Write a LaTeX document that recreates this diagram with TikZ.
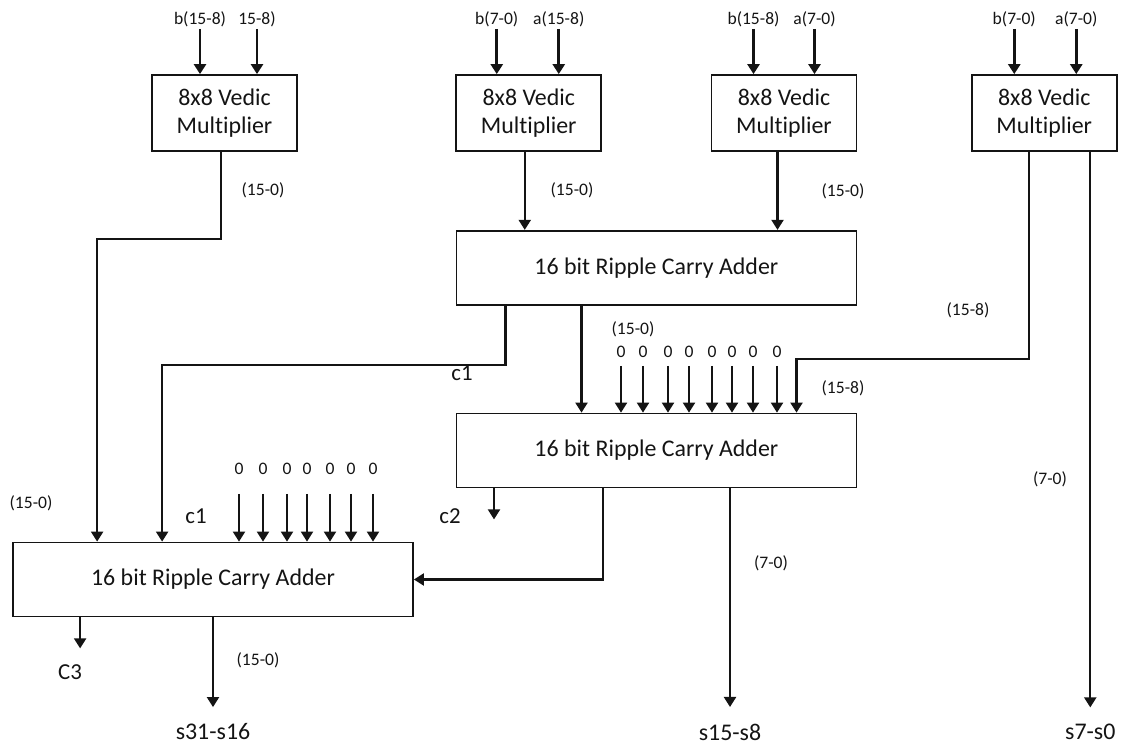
\documentclass[tikz,border=0pt]{standalone}
\usepackage{fontspec}
\setmainfont{Carlito}[Ligatures={NoCommon}]
\usepackage{tikz}
\usetikzlibrary{arrows.meta, positioning, calc}
\definecolor{mydark}{RGB}{20,20,20}
\tikzset{
  mult/.style={rectangle, draw=mydark, text=mydark, minimum width=2.9cm,
    minimum height=1.52cm, align=center, inner sep=2pt,
    font=\fontsize{13.6}{15.9}\selectfont, line width=1pt},
  rca/.style={rectangle, draw=mydark, text=mydark, minimum width=8cm,
    minimum height=1.48cm, font=\fontsize{13.6}{16}\selectfont, line width=1pt},
  lbl/.style={text=mydark, font=\fontsize{10}{12}\selectfont, inner sep=1pt},
  clbl/.style={text=mydark, font=\fontsize{13}{15}\selectfont, inner sep=1pt},
  zero/.style={text=mydark, font=\fontsize{10}{12}\selectfont, inner sep=1pt},
  outlbl/.style={text=mydark, font=\fontsize{13.6}{16}\selectfont,
    inner sep=1pt, outer ysep=0.3cm},
  arrow/.style={-{Triangle[length=0.2cm, width=0.24cm]}, line width=1.2pt, color=mydark},
  inarrow/.style={arrow, line width=1.6pt}
}

\begin{document}
\begin{tikzpicture}
  \useasboundingbox (0,0) rectangle (22.42,14.88);
  \coordinate (base) at (0,0.24);

  % multipliers
  \node[mult] (m1) at (4.49,12.62) {8x8 Vedic\\Multiplier};
  \node[mult, right=3.15cm of m1] (m2) {8x8 Vedic\\Multiplier};
  \node[mult, right=2.17cm of m2] (m3) {8x8 Vedic\\Multiplier};
  \node[mult, right=2.27cm of m3] (m4) {8x8 Vedic\\Multiplier};

  % adders
  \coordinate (mid) at ($(m2.south)!0.5!(m3.south)$);
  \node[rca, below=1.56cm of mid] (rca1) {16 bit Ripple Carry Adder};
  \node[rca, below=2.14cm of rca1] (rca2) {16 bit Ripple Carry Adder};
  \node[rca] (rca3) at (4.26,3.29) {16 bit Ripple Carry Adder};

  % operand inputs
  \foreach \m/\dx/\t [count=\i] in {m1/-0.49/{b(15-8)}, m1/0.65/{15-8)},
      m2/-0.64/{b(7-0)}, m2/0.60/{a(15-8)}, m3/-0.61/{b(15-8)}, m3/0.61/{a(7-0)},
      m4/-0.60/{b(7-0)}, m4/0.64/{a(7-0)}}
  {
    \node[lbl] (in\i) at ($(\m.north)+(\dx,1.10)$) {\t};
    \draw[inarrow] (in\i) -- (in\i |- \m.north);
  }

  % multiplier outputs
  \draw[arrow] ($(m1.south)+(-0.07,0)$) -- ++(0,-1.74) -| ($(rca3.north west)+(1.70,0)$);
  \coordinate (p2) at ($(m2.south)+(-0.08,0)$);
  \draw[arrow] (p2) -- (p2 |- rca1.north);
  \coordinate (p3) at ($(m3.south)+(-0.13,0)$);
  \draw[arrow] (p3) -- (p3 |- rca1.north);
  \draw[arrow] ($(m4.south)+(-0.30,0)$) -- ++(0,-4.14) -| ($(rca2.north west)+(6.82,0)$);
  \coordinate (p4) at ($(m4.south)+(0.92,0)$);
  \node[outlbl] (s70) at (p4 |- base) {s7-s0};
  \draw[arrow] (p4) -- (s70);

  % first adder outputs
  \draw[arrow] ($(rca1.south west)+(1.0,0)$) -- ++(0,-1.18) -| ($(rca3.north west)+(3.0,0)$);
  \coordinate (p1) at ($(rca1.south west)+(2.52,0)$);
  \draw[arrow] (p1) -- (p1 |- rca2.north);

  % zero padding, second adder
  \foreach \x [count=\i] in {12.42,12.86,13.36,13.78,14.24,14.64,15.06,15.54}
  {
    \node[zero] (za\i) at (\x,7.84) {0};
    \draw[arrow, shorten <=0.12cm] (za\i) -- (za\i |- rca2.north);
  }

  % second adder outputs
  \draw[arrow] ($(rca2.south west)+(0.77,0)$) -- ++(0,-0.62) coordinate (c2o);
  \draw[arrow] ($(rca2.south west)+(2.95,0)$) |- (rca3.east);
  \coordinate (q2) at ($(rca2.south west)+(5.49,0)$);
  \node[outlbl] (s158) at (q2 |- base) {s15-s8};
  \draw[arrow] (q2) -- (s158);

  % zero padding, third adder
  \foreach \x [count=\i] in {4.78,5.26,5.74,6.14,6.60,7.02,7.46}
  {
    \node[zero] (zb\i) at (\x,5.50) {0};
    \draw[arrow, shorten <=0.34cm] (zb\i) -- (zb\i |- rca3.north);
  }

  % third adder outputs
  \draw[arrow] ($(rca3.south west)+(1.36,0)$) -- ++(0,-0.62) coordinate (c3o);
  \node[outlbl] (s3116) at (rca3.south |- base) {s31-s16};
  \draw[arrow] (rca3.south) -- (s3116);

  % bus widths
  \node[lbl] (w1) at (5.26,11.08) {(15-0)};
  \node[lbl] (w2) at (11.44,11.08) {(15-0)};
  \node[lbl] (w3) at (16.86,11.06) {(15-0)};
  \node[lbl] (w4) at (19.36,8.68) {(15-8)};
  \node[lbl] (w5) at (12.66,8.30) {(15-0)};
  \node[lbl] (w6) at (16.86,7.12) {(15-8)};
  \node[lbl] (w7) at (21.00,5.30) {(7-0)};
  \node[lbl] (w8) at (15.42,3.62) {(7-0)};
  \node[lbl] (w9) at (0.62,4.82) {(15-0)};
  \node[lbl] (w10) at (5.16,1.68) {(15-0)};

  % carries
  \node[clbl] (k1) at (9.24,7.42) {c1};
  \node[clbl] (k2) at (3.92,4.56) {c1};
  \node[clbl] (k3) at (9.00,4.56) {c2};
  \node[clbl] (k4) at (1.40,1.44) {C3};
\end{tikzpicture}
\end{document}
